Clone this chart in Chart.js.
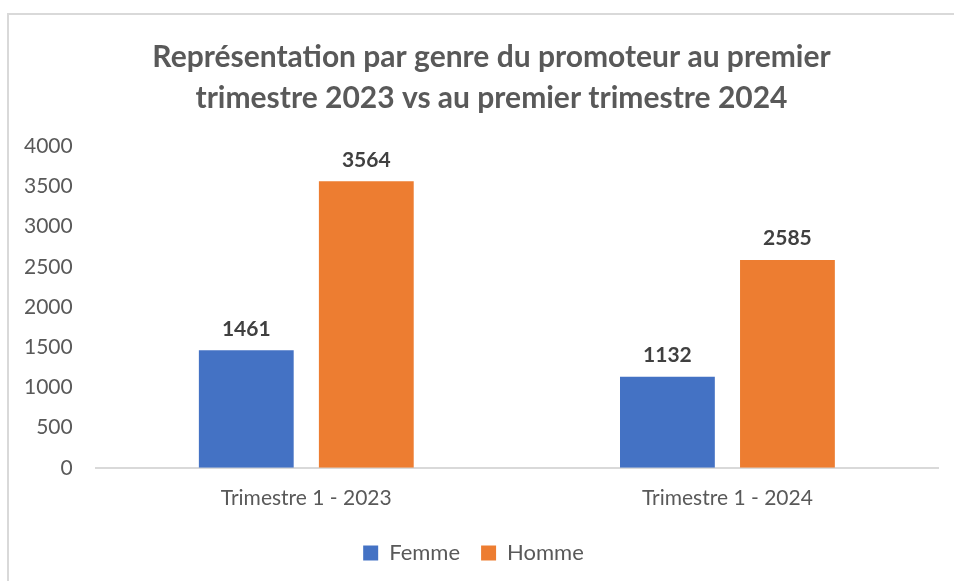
<!DOCTYPE html>
<html>
<head>
<meta charset="utf-8">
<script src="https://cdn.jsdelivr.net/npm/chart.js@4.4.1/dist/chart.umd.min.js"></script>
<style>
    body { margin: 0; background: #fff; overflow: hidden; }
    #frame {
        position: absolute; left: 7px; top: 13px; width: 980px; height: 620px;
        border: 2px solid #d9d9d9; box-sizing: border-box;
    }
    #wrap { position: absolute; left: 0; top: 0; width: 954px; height: 581px; }
</style>
</head>
<body>
<div id="frame"></div>
<div id="wrap"><canvas id="chart"></canvas></div>
<script>
    // data
    const categories = ['Trimestre 1 - 2023', 'Trimestre 1 - 2024'];
    const femme = [1461, 1132];
    const homme = [3564, 2585];
    const yTicks = [0, 500, 1000, 1500, 2000, 2500, 3000, 3500, 4000];

    const FONT = 'Lato, "Open Sans", sans-serif';

    // draws the bold value above each bar
    const valueLabels = {
        id: 'valueLabels',
        afterDatasetsDraw(chart) {
            const ctx = chart.ctx;
            ctx.save();
            ctx.font = 'bold 21px ' + FONT;
            ctx.fillStyle = '#404040';
            ctx.textAlign = 'center';
            ctx.textBaseline = 'bottom';
            chart.data.datasets.forEach((ds, i) => {
                chart.getDatasetMeta(i).data.forEach((bar, j) => {
                    ctx.fillText(ds.data[j], bar.x, bar.y - 11);
                });
            });
            ctx.restore();
        }
    };

    // the title in the original sits a little right of the canvas centre
    const titleShift = {
        id: 'titleShift',
        afterLayout(chart) {
            chart.titleBlock.left += 18;
            chart.titleBlock.right += 18;
        }
    };

    new Chart(document.getElementById('chart'), {
        type: 'bar',
        data: {
            labels: categories,
            datasets: [
                { label: 'Femme', data: femme, backgroundColor: '#4472c4', categoryPercentage: 0.57, barPercentage: 0.79 },
                { label: 'Homme', data: homme, backgroundColor: '#ed7d31', categoryPercentage: 0.57, barPercentage: 0.79 }
            ]
        },
        options: {
            responsive: true,
            maintainAspectRatio: false,
            animation: false,
            layout: { padding: { left: 9, right: 16, top: 37, bottom: 7 } },
            plugins: {
                title: {
                    display: true,
                    text: ['Représentation par genre du promoteur au premier', 'trimestre 2023 vs au premier trimestre 2024'],
                    color: '#595959',
                    font: { family: FONT, size: 30, weight: 'bold', lineHeight: 1.37 },
                    padding: { top: 0, bottom: 27 }
                },
                legend: {
                    position: 'bottom',
                    labels: {
                        color: '#595959',
                        font: { family: FONT, size: 22 },
                        boxWidth: 15, boxHeight: 15, padding: 21
                    }
                },
                tooltip: { enabled: false }
            },
            scales: {
                x: {
                    grid: { display: false },
                    border: { display: true, color: '#d9d9d9', width: 2 },
                    ticks: { color: '#595959', font: { family: FONT, size: 21 }, padding: 10 }
                },
                y: {
                    min: 0, max: 4000,
                    afterBuildTicks: axis => { axis.ticks = yTicks.map(v => ({ value: v })); },
                    grid: { display: false },
                    border: { display: false },
                    ticks: { color: '#595959', font: { family: FONT, size: 21 }, padding: 15, callback: v => String(v) }
                }
            }
        },
        plugins: [valueLabels, titleShift]
    });
</script>
</body>
</html>
